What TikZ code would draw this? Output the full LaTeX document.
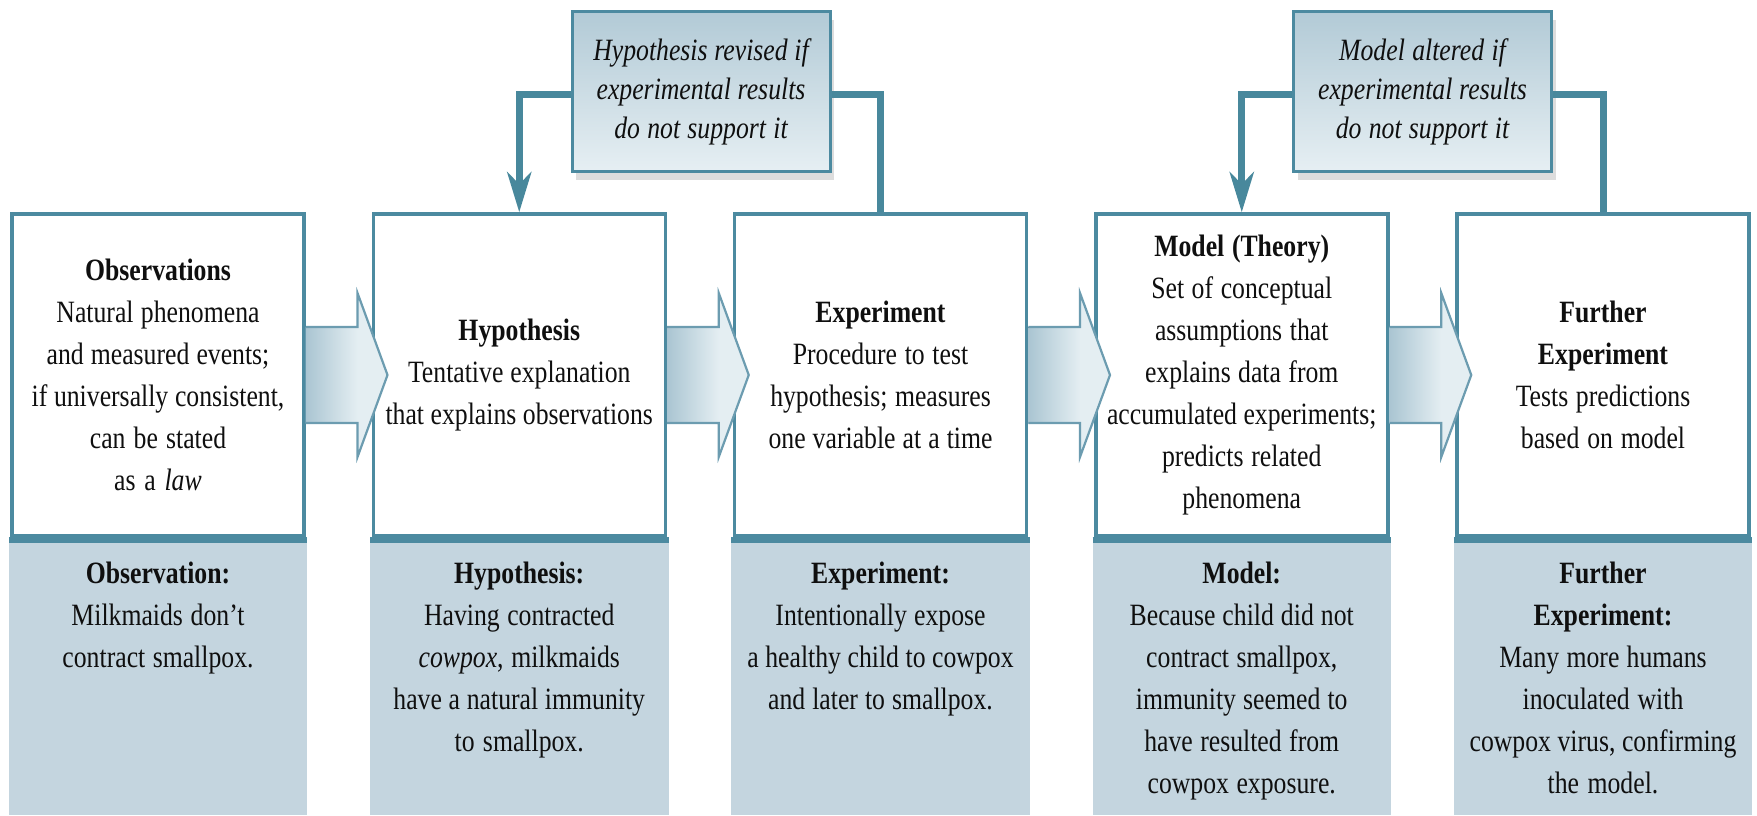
\documentclass[tikz,border=0pt]{standalone}
\usepackage{fontspec}
\setmainfont{Liberation Serif}[FakeStretch=0.83]
\usetikzlibrary{calc,arrows.meta,shadows}
\definecolor{boxline}{RGB}{76,138,160}
\definecolor{connline}{RGB}{72,136,156}
\definecolor{panelblue}{RGB}{196,213,223}
\definecolor{arrowline}{RGB}{108,156,176}
\definecolor{arrowdark}{RGB}{170,197,210}
\definecolor{arrowlight}{RGB}{228,238,242}
\definecolor{fbtop}{RGB}{178,202,214}
\definecolor{fbbot}{RGB}{230,239,243}
\definecolor{txt}{RGB}{15,15,15}
\begin{document}
\begin{tikzpicture}[x=0.5pt,y=-0.5pt,
  tightspace/.style={execute at begin node={\spaceskip=0.2em plus 0.05em minus 0.03em\relax}},
  mainbox/.style={draw=boxline, line width=1.75pt, fill=white,
    minimum width=146pt, minimum height=161pt, inner sep=0pt,
    text width=146pt, align=center, tightspace,
    font=\fontsize{15.5}{21}\selectfont, text=txt},
  paneltext/.style={inner sep=0pt, text width=146pt, align=center, tightspace,
    anchor=north, font=\fontsize{15.5}{21}\selectfont, text=txt},
  fbbox/.style={draw=boxline, line width=1.5pt, top color=fbtop, bottom color=fbbot,
    minimum width=129pt, minimum height=80pt, inner sep=0pt,
    text width=129pt, align=center, tightspace,
    font=\itshape\fontsize{15.5}{19.5}\selectfont, text=txt,
    drop shadow={shadow xshift=2pt, shadow yshift=-4pt, opacity=0.22, fill=black!60}},
  conn/.style={draw=connline, line width=3.5pt},
  bottomline/.style={draw=boxline, line width=3pt},
  shaftfill/.style={left color=arrowdark, right color=arrowlight},
  arrowedge/.style={draw=arrowline, line width=1.1pt, line join=miter}
]
\useasboundingbox (0,0) rectangle (1757,815);
\fill[white] (0,0) rectangle (1757,815);
\coordinate (bottom) at (0,815);

% main boxes
\node[mainbox] (b1) at (158,375) {\textbf{Observations}\\Natural phenomena\\and measured events;\\if universally consistent,\\can be stated\\as a \textit{law}};
\node[mainbox] (b2) at (519.25,375) {\textbf{Hypothesis}\\Tentative explanation\\that explains observations};
\node[mainbox] (b3) at (880.5,375) {\textbf{Experiment}\\Procedure to test\\hypothesis; measures\\one variable at a time};
\node[mainbox] (b4) at (1241.75,375) {\textbf{Model (Theory)}\\Set of conceptual\\assumptions that\\explains data from\\accumulated experiments;\\predicts related\\phenomena};
\node[mainbox] (b5) at (1603,375) {\textbf{Further}\\\textbf{Experiment}\\Tests predictions\\based on model};

% panels below
\foreach \b in {b1,b2,b3,b4,b5} {
  \fill[panelblue] ($(\b.south west)+(-1.5,0)$) rectangle ($(\b.south east |- bottom)+(1.5,0)$);
  \draw[bottomline] ($(\b.south west)+(-1.5,2)$) -- ($(\b.south east)+(1.5,2)$);
}
\node[paneltext] (p1) at ($(b1.south)+(0,24)$) {\textbf{Observation:}\\Milkmaids don't\\contract smallpox.};
\node[paneltext] (p2) at ($(b2.south)+(0,24)$) {\textbf{Hypothesis:}\\Having contracted\\\textit{cowpox}, milkmaids\\have a natural immunity\\to smallpox.};
\node[paneltext] (p3) at ($(b3.south)+(0,24)$) {\textbf{Experiment:}\\Intentionally expose\\a healthy child to cowpox\\and later to smallpox.};
\node[paneltext] (p4) at ($(b4.south)+(0,24)$) {\textbf{Model:}\\Because child did not\\contract smallpox,\\immunity seemed to\\have resulted from\\cowpox exposure.};
\node[paneltext] (p5) at ($(b5.south)+(0,24)$) {\textbf{Further}\\\textbf{Experiment:}\\Many more humans\\inoculated with\\cowpox virus, confirming\\the model.};

% block arrows between boxes
\foreach \a/\b in {b1/b2,b2/b3,b3/b4,b4/b5} {
  \fill[arrowlight] ($(\a.east)+(0,-48)$) -- ($(\b.west)+(-14,-48)$) -- ($(\b.west)+(-14,-82)$) -- ($(\b.west)+(16,0)$) -- ($(\b.west)+(-14,82)$) -- ($(\b.west)+(-14,48)$) -- ($(\a.east)+(0,48)$) -- cycle;
  \fill[shaftfill] ($(\a.east)+(0,-48)$) rectangle ($(\b.west)+(-14,48)$);
  \draw[arrowedge] ($(\a.east)+(0,-48)$) -- ($(\b.west)+(-14,-48)$) -- ($(\b.west)+(-14,-82)$) -- ($(\b.west)+(16,0)$) -- ($(\b.west)+(-14,82)$) -- ($(\b.west)+(-14,48)$) -- ($(\a.east)+(0,48)$);
}

% feedback boxes
\node[fbbox] (f1) at (701,91.5) {Hypothesis revised if\\experimental results\\do not support it};
\node[fbbox] (f2) at (1422.5,91.5) {Model altered if\\experimental results\\do not support it};

% feedback connectors
\draw[conn,-{Stealth[length=20pt,width=12pt,inset=6pt]}] ($(f1.west)+(0,3)$) -| (b2.north);
\draw[conn] ($(f1.east)+(0,3)$) -| (b3.north);
\draw[conn,-{Stealth[length=20pt,width=12pt,inset=6pt]}] ($(f2.west)+(0,3)$) -| (b4.north);
\draw[conn] ($(f2.east)+(0,3)$) -| (b5.north);
\end{tikzpicture}
\end{document}
